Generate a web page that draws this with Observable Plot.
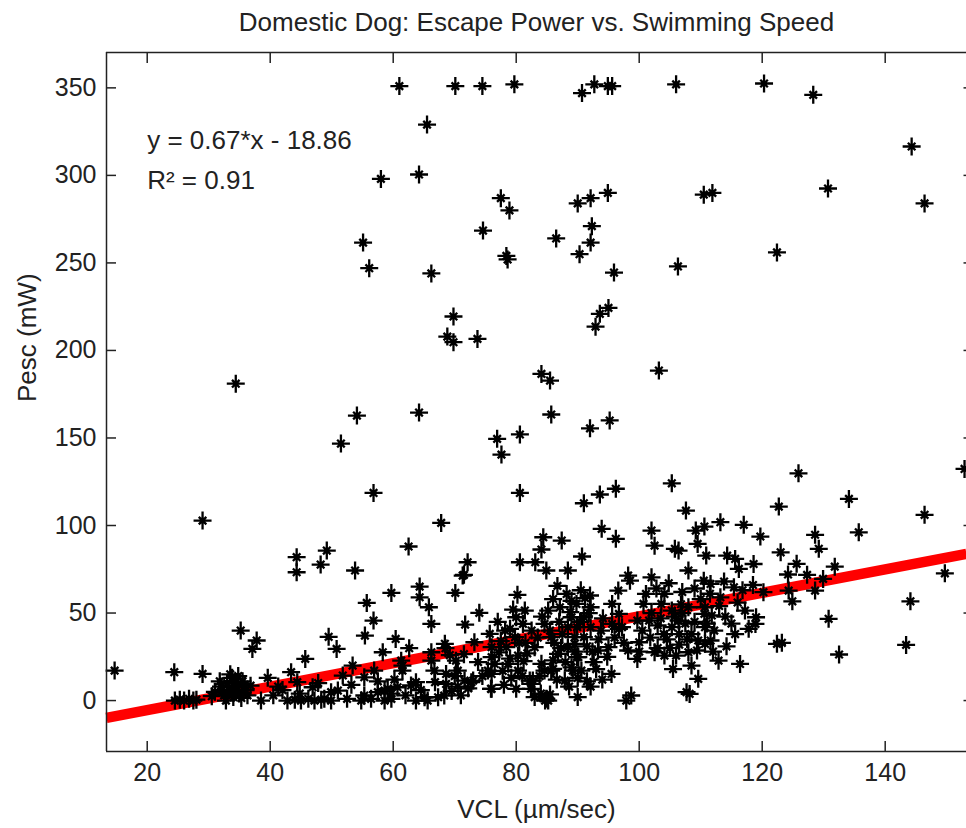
<!DOCTYPE html>
<html><head><meta charset="utf-8">
<script src="https://cdn.jsdelivr.net/npm/d3@7"></script>
<script src="https://cdn.jsdelivr.net/npm/@observablehq/plot@0.6"></script>
<style>
html,body{margin:0;padding:0;background:#fff;}
#chart svg{display:block;}
</style>
</head><body><div id="chart"></div>
<script>
const title = "Domestic Dog: Escape Power vs. Swimming Speed";
const xLabel = "VCL (µm/sec)";
const yLabel = "Pesc (mW)";
const annotationLines = ["y = 0.67*x - 18.86", "R² = 0.91"];
const fitSlope = 0.67;
const fitIntercept = -18.86;
const xTicks = [20, 40, 60, 80, 100, 120, 140];
const yTicks = [0, 50, 100, 150, 200, 250, 300, 350];
const xDomain = [13.38, 153.22];
const yDomain = [-29.1, 370.2];

// Pesc > 100 mW
const vclHigh = [61.0,70.1,74.5,79.7,90.7,92.7,94.9,95.6,106.0,120.3,
  128.3,144.3,130.7,146.4,65.5,58.0,64.2,55.1,56.1,66.2,
  74.6,77.5,78.9,86.5,78.4,78.6,90.0,92.1,94.9,92.3,
  92.1,90.3,110.5,111.9,95.9,106.3,122.4,69.8,68.8,69.8,
  73.7,95.0,93.6,92.9,84.1,85.5,103.2,64.2,85.7,92.0,
  95.2,76.9,77.6,80.6,54.1,51.5,34.4,56.8,80.6,67.8,
  29.0,105.3,96.2,93.6,91.0,107.6,125.9,152.9,122.7,134.1,
  146.4];
const pescHigh = [351,351,351,352,347,352,351,351,352,352.5,
  346,316.5,292.5,284,329,298,300.5,261.6,247,244,
  268.5,287,280,264,254,252,284,287,290,271,
  261.6,255,289,290,244.5,248,256,219.4,207.9,204.7,
  206.6,224.3,220.9,213.6,186.6,182.8,188.5,164.5,163.4,155.5,
  160,149.5,140.5,152,162.8,146.8,181,118.6,118.6,101.5,
  102.8,124.1,121,117.7,112.7,108.5,129.8,132.3,110.8,115.2,
  106.1];

// Pesc 70-100 mW
const vclUpper = [49.2,44.3,44.3,48.2,62.5,53.8,72.1,71.5,80.6,83.1,
  84.4,84.1,84.9,93.9,96.2,102.0,102.5,109.2,110.6,113.2,
  117.0,105.8,106.4,109.5,110.9,114.3,115.6,118.6,87.4,90.7,
  119.7,128.6,129.2,135.7,123.0,125.6,124.2,127.3,131.8,129.9,
  149.7,88.4,108.0,116.2,71.3,98.2,102.0];
const pescUpper = [85.7,81.9,73.3,77.7,88,74.3,79,71.8,79,79,
  93.3,86.3,74.3,98.1,92.4,97.1,88.5,97.1,99.4,101.9,
  100.4,86.7,85.7,89.5,82.8,82.8,80.9,78,91.4,82.3,
  93.7,94.7,86.7,96.1,84.7,78.1,72,71.8,76.5,69.5,
  72.7,74.3,74.3,75.2,71.4,71.4,70.4];

// Pesc 40-70 mW
const vclMid = [86.7,98.5,110.5,111.6,115.4,92.0,96.6,104.1,113.2,85.2,
  117.2,118.9,101.6,97.2,110.6,117.8,91.2,103.6,101.1,100.7,
  105.3,106.4,105.3,108.0,110.7,111.8,95.6,96.7,95.6,92.1,
  91.0,89.9,92.1,96.7,99.7,110.7,120.2,124.3,124.9,128.6,
  119.0,130.8,144.1,59.7,64.3,64.3,70.1,55.7,80.2,65.8,
  74.0,56.8,66.2,71.7,81.4,80.0,88.2,81.1,87.1,89.0,
  89.8,84.6,35.2,49.5,107.5,103.5,107.0,87.0,86.0,90.5,
  88.8,79.0];
const pescMid = [65.5,68.5,68.5,66.6,64.7,60,62.8,60.9,59,51.4,
  51.4,43.8,45.7,41.9,49.5,41,58.5,55.2,60.9,55.2,
  51.4,45.7,41.9,53.3,53.3,48.6,55.2,49.5,43.8,53.3,
  47.6,41.9,41.9,41,45.7,41.9,61.9,62.8,56.7,62.8,
  47.6,46.7,56.7,61.5,65.1,59,61.5,55.8,60.4,53.3,
  50.1,45.7,43.8,43.4,51.4,47.6,60.9,43.8,53.3,47.6,
  55.2,43.8,40,36.4,44,47,50,45,58,63,
  50.5,41];

// Pesc 20-40 mW
const vclLow = [106.5,115.6,91.0,100.0,99.7,98.2,95.0,93.3,102.5,104.1,
  106.0,110.7,109.6,112.9,89.5,89.9,108.0,109.4,111.6,116.4,
  122.4,123.2,132.5,143.4,55.4,60.4,50.8,62.6,58.3,68.5,
  73.2,66.2,75.7,53.4,61.3,66.2,70.2,76.0,76.0,76.5,
  78.4,79.8,80.3,78.7,82.5,83.0,84.1,85.7,86.8,88.4,
  89.5,88.4,90.1,37.8,37.1,45.7,104.5,106.5,105.0,108.5,
  77.5,77.2,81.5,81.2,68.4];
const pescLow = [38,38,36.2,33.3,23.8,28.6,30.5,28.6,27.6,25.7,
  25.7,32.4,34.3,22.8,32.4,24.8,27.6,28.6,34.3,20.9,
  32.4,33,26.3,31.8,37.1,35.2,29.5,29.9,27.6,29.9,
  33.3,27.6,38.1,20,22.8,22.8,22.8,30.5,24.8,20.9,
  30.5,36.2,25.7,21,40,30.5,21,36.2,26.7,41.9,
  36.2,30.5,24.8,34.3,29.5,23.8,35,32,30,38,
  34,27.5,33,22.5,32.4];

// Pesc 0-20 mW
const vclBase = [14.7,24.4,29.0,24.5,25.3,26.0,26.8,27.5,28.0,31.0,
  32.0,32.5,33.0,33.3,33.8,34.0,34.5,35.0,35.5,36.0,
  33.5,32.8,36.8,38.5,39.6,41.3,43.4,44.4,46.9,42.8,
  44.0,45.0,46.2,47.2,48.3,49.9,48.8,49.9,51.0,51.8,
  55.3,56.9,61.5,61.5,63.7,66.7,70.5,71.6,72.7,68.6,
  68.6,75.4,76.0,76.0,55.3,54.8,56.4,57.5,59.1,59.7,
  58.6,63.7,65.1,68.3,62.9,58.6,59.7,60.7,65.6,67.3,
  66.8,85.2,82.5,84.6,73.0,80.0,80.3,82.2,85.7,84.9,
  84.7,89.2,87.9,97.9,98.7,107.7,92.1,75.9,82.7,82.4,
  109.6,95.5,89.0,90.6,108.2,86.0,69.5,70.5,71.0,79.2,
  78.0,34.2,33.0,35.8];
const pescBase = [17.1,16.2,15.2,0,0.5,0,1,0,0.5,5,
  8,3,10,6,13,2,8,4,11,6,
  15,0,8.5,0,13,8,16.2,10.5,7.6,0,
  0.5,0,1,0,0.5,0,1,4.8,5.7,14.3,
  13.3,17.1,17.1,20,10.5,17.1,17.1,11.4,10.5,15.2,
  9.5,17.1,6.7,15.2,2.9,0,1,4.8,6.7,1,
  0,0,1.9,2.9,8.6,5.7,4,7.6,0,1.9,
  10.5,0,9.5,17.1,11.4,6.7,17.1,11.4,17.1,1,
  0,17.1,11.4,0,2.9,4.8,8,6.7,11.4,6.7,
  12.4,15.2,19,17.1,3.8,18.1,5.5,8,3,13,
  9,5,4,9];

// densest part of the cloud (overlapping markers)
const vclDense = [77.0,78.2,79.5,80.5,81.8,83.5,84.2,85.5,86.2,87.5,
  88.0,89.5,90.4,91.5,92.6,93.4,94.1,94.8,96.0,97.5,
  77.8,79.0,81.0,83.8,86.6,88.6,90.0,91.5,93.0,94.0,
  84.0,85.5,83.0,90.0,86.0,87.3,92.4,93.8,91.8,89.0,
  100.5,102.0,103.0,104.0,105.8,106.8,107.8,109.0,110.0,111.0,
  112.2,113.0,114.0,115.0,116.0,102.8,104.8,107.0,109.0,111.5,
  113.8,116.8,100.0,101.8,103.0,112.0,114.2,118.5,108.5,105.5,
  31.8,34.8,36.3,32.2,34.4,30.5,33.7,35.3,40.5,42.0,
  44.8,47.8,52.5,53.2,57.5,60.2,62.0,64.5,69.2,71.5,
  73.8,74.5,72.2,70.0];
const pescDense = [45,40,52,33,27,36,48,40,33,38,
  22,28,45,31,22,35,47,25,36,33,
  17,24,14,14,12,8,13,11,18,12,
  4,3.5,2,2,23,30,28,40,50,57,
  40,50,43,38,48,55,35,45,58,44,
  40,54,48,44,56,64,67,62,64,61,
  68,63,28,36,30,28,31,66,20,18,
  11,14,3,6,10.5,2.5,7.5,1.5,3,6,
  4,10,1,9,11,12,3,6,26,26.5,
  22,14,7,14];

const groups = [[vclHigh, pescHigh], [vclUpper, pescUpper], [vclMid, pescMid], [vclLow, pescLow], [vclBase, pescBase], [vclDense, pescDense]];
const points = groups.flatMap(([xs, ys]) => xs.map((x, i) => ({x, y: ys[i]})));
const fitLine = xDomain.map(x => ({x, y: fitSlope * x + fitIntercept}));

// MATLAB-style '*' marker: long plus arms, short diagonal arms
const asterisk = {
  draw(context, size) {
    const r = Math.sqrt(size / Math.PI);
    const d = r * 0.42;
    context.moveTo(-r, 0); context.lineTo(r, 0);
    context.moveTo(0, -r); context.lineTo(0, r);
    context.moveTo(-d, -d); context.lineTo(d, d);
    context.moveTo(-d, d); context.lineTo(d, -d);
  }
};

const ink = "#222";
const blank = () => "";

const chart = Plot.plot({
  width: 966,
  height: 828,
  marginLeft: 106,
  marginRight: 0,
  marginTop: 52,
  marginBottom: 77,
  style: {fontFamily: "'Liberation Sans', Arial, Helvetica, sans-serif", fontSize: "26px", color: ink, background: "#fff"},
  x: {domain: xDomain, axis: null},
  y: {domain: yDomain, axis: null},
  marks: [
    Plot.line(fitLine, {x: "x", y: "y", stroke: "#ff0000", strokeWidth: 10.5, strokeLinecap: "butt"}),
    Plot.dot(points, {x: "x", y: "y", symbol: asterisk, r: 9, fill: "none", stroke: "#000", strokeWidth: 2.3}),
    Plot.ruleX([xDomain[0]], {stroke: ink, strokeWidth: 1.5}),
    Plot.ruleY(yDomain, {stroke: ink, strokeWidth: 1.5}),
    Plot.axisX(xTicks, {anchor: "bottom", tickSize: -10, tickFormat: blank, label: null, strokeWidth: 1.5}),
    Plot.axisX(xTicks, {anchor: "top", tickSize: -10, tickFormat: blank, label: null, strokeWidth: 1.5}),
    Plot.axisY(yTicks, {anchor: "left", tickSize: -10, tickFormat: blank, label: null, strokeWidth: 1.5}),
    Plot.axisY(yTicks, {anchor: "right", tickSize: -3.5, tickFormat: blank, label: null, strokeWidth: 1.5}),
    Plot.axisX(xTicks, {anchor: "bottom", tickSize: 0, tickPadding: 12, label: null, fontSize: 25}),
    Plot.axisY(yTicks, {anchor: "left", tickSize: 0, tickPadding: 10, label: null, fontSize: 25}),
    Plot.text([title], {text: d => d, frameAnchor: "top", dy: -22, lineAnchor: "bottom", fontSize: 26, fill: ink}),
    Plot.text([xLabel], {text: d => d, frameAnchor: "bottom", dy: 66, lineAnchor: "bottom", fontSize: 26, fill: ink}),
    Plot.text([yLabel], {text: d => d, frameAnchor: "left", dx: -79, rotate: -90, lineAnchor: "middle", fontSize: 26, fill: ink}),
    Plot.text(annotationLines, {text: d => d, x: () => 20, y: (d, i) => i === 0 ? 320 : 297, textAnchor: "start", lineAnchor: "middle", fontSize: 26, fill: ink})
  ]
});
document.getElementById("chart").appendChild(chart);
</script>
</body></html>
